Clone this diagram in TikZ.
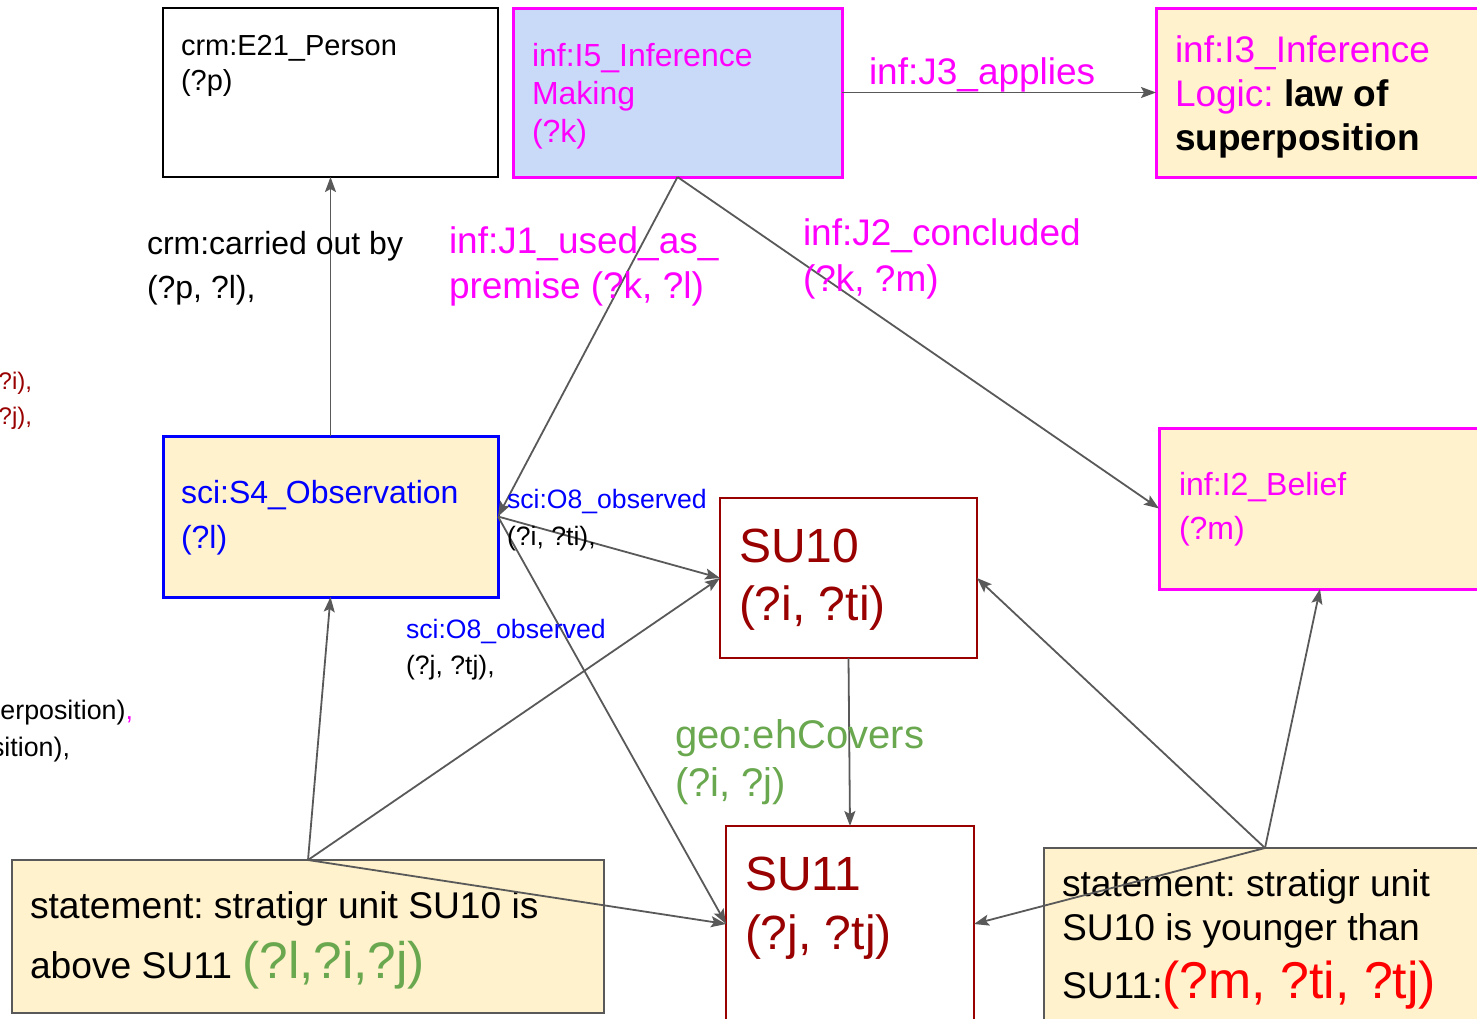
\documentclass[tikz,border=0pt]{standalone}
\usepackage{fontspec}
\setmainfont{Liberation Sans}
\usetikzlibrary{arrows.meta}
\frenchspacing

\definecolor{infmagenta}{HTML}{FF00FF}
\definecolor{sciblue}{HTML}{0000FF}
\definecolor{sudarkred}{HTML}{990000}
\definecolor{varred}{HTML}{FF0000}
\definecolor{geogreen}{HTML}{6AA84F}
\definecolor{boxyellow}{HTML}{FFF2CC}
\definecolor{boxblue}{HTML}{C9DAF8}
\definecolor{linkgray}{HTML}{595959}

\newcommand{\setfs}[2]{\fontsize{#1}{#2}\selectfont\lineskiplimit=-100pt\relax}

\tikzset{
  box/.style={draw, rectangle, inner sep=0pt, outer sep=0pt},
  txt/.style={anchor=base west, inner sep=0pt, outer sep=0pt, align=left},
  link/.style={draw=linkgray, line width=0.9pt, -{Stealth[length=7.5pt,width=5.5pt,inset=1.5pt]}},
}

\begin{document}
\begin{tikzpicture}[x=0.5pt,y=-0.5pt]
\useasboundingbox (0,0) rectangle (1477,1018);
\clip (0,0) rectangle (1477,1018);
% top row
\node[box,draw=black,line width=1pt,fill=white,minimum width=167.5pt,minimum height=84.5pt]
  (person) at (330.5,92.5) {};
\node[box,draw=infmagenta,line width=1.5pt,fill=boxblue,minimum width=164.5pt,minimum height=84.5pt]
  (infmk) at (677.5,92.5) {};
\node[box,draw=infmagenta,line width=1.5pt,fill=boxyellow,minimum width=167pt,minimum height=84.5pt]
  (logic) at (1323,92.5) {};
% middle row
\node[box,draw=sciblue,line width=1.5pt,fill=boxyellow,minimum width=167.5pt,minimum height=80.5pt]
  (obs) at (330.5,516.5) {};
\node[box,draw=infmagenta,line width=1.5pt,fill=boxyellow,minimum width=161pt,minimum height=80.5pt]
  (belief) at (1320,508.5) {};
\node[box,draw=sudarkred,line width=0.8pt,fill=white,minimum width=128.5pt,minimum height=80pt]
  (su10) at (848.5,578) {};
% bottom row
\node[box,draw=sudarkred,line width=0.8pt,fill=white,minimum width=124pt,minimum height=98pt]
  (su11) at (850,924) {};
\node[box,draw=linkgray,line width=0.8pt,fill=boxyellow,minimum width=296pt,minimum height=76.5pt]
  (stmtabove) at (308,936.5) {};
\node[box,draw=linkgray,line width=0.8pt,fill=boxyellow,minimum width=221pt,minimum height=91pt]
  (stmtyounger) at (1265,939) {};
% box texts (placed at the baseline of the last line)
\node[txt,font=\setfs{14.5}{17.5}] (persontxt) at (181,90) {crm:E21\_Person\\(?p)};
\node[txt,font=\setfs{16}{19},text=infmagenta] (infmktxt) at (532,142)
  {inf:I5\_Inference\\Making\\(?k)};
\node[txt,font=\setfs{18.5}{22}] (logictxt) at (1175,150)
  {\textcolor{infmagenta}{inf:I3\_Inference}\\\textcolor{infmagenta}{Logic:} \textbf{law of}\\\textbf{superposition}};
\node[txt,font=\setfs{16}{22.5},text=sciblue] (obstxt) at (181,548) {sci:S4\_Observation\\(?l)};
\node[txt,font=\setfs{16}{22},text=infmagenta] (belieftxt) at (1179,539) {inf:I2\_Belief\\(?m)};
\node[txt,font=\setfs{24}{29},text=sudarkred] (su10txt) at (739,620) {SU10\\(?i, ?ti)};
\node[txt,font=\setfs{24}{29.5},text=sudarkred] (su11txt) at (745,949) {SU11\\(?j, ?tj)};
\node[txt,font=\setfs{18.6}{30}] (stmtabovetxt) at (30,978)
  {statement: stratigr unit SU10 is\\above SU11 \textcolor{geogreen}{\fontsize{25.7}{30}\selectfont(?l,?i,?j)}};
\node[txt,font=\setfs{18.6}{22}] (stmtyoungertxt) at (1062,998)
  {statement: stratigr unit\\SU10 is younger than\\[7pt]SU11:\textcolor{varred}{\fontsize{25.9}{22}\selectfont(?m, ?ti, ?tj)}};
% cut-off texts at the left edge
\node[txt,anchor=base east,font=\setfs{12}{17.5},text=sudarkred] (cuti) at (32,389) {?i),};
\node[txt,anchor=base east,font=\setfs{12}{17.5},text=sudarkred] (cutj) at (32,424) {?j),};
\node[txt,anchor=base east,font=\setfs{13.4}{18.5}] (cutsup) at (133,719) {erposition)\textcolor{infmagenta}{,}};
\node[txt,anchor=base east,font=\setfs{13.4}{18.5}] (cutpos) at (70,756) {sition),};
% links
\draw[link] (obs.north) -- (person.south);
\draw[link] (infmk.south) -- (obs.east);
\draw[link] (infmk.south) -- (belief.west);
\draw[link] (infmk.east) -- (logic.west);
\draw[link] (obs.east) -- (su10.west);
\draw[link] (obs.east) -- (su11.west);
\draw[link] (stmtabove.north) -- (obs.south);
\draw[link] (stmtabove.north) -- (su10.west);
\draw[link] (stmtabove.north) -- (su11.west);
\draw[link] (su10.south) -- (su11.north);
\draw[link] (stmtyounger.north) -- (su10.east);
\draw[link] (stmtyounger.north) -- (belief.south);
\draw[link] (stmtyounger.north) -- (su11.east);
% link labels
\node[txt,font=\setfs{16}{22}] (carriedlbl) at (147,298) {crm:carried out by\\(?p, ?l),};
\node[txt,font=\setfs{18.5}{22.5},text=infmagenta] (usedlbl) at (449,298)
  {inf:J1\_used\_as\_\\premise (?k, ?l)};
\node[txt,font=\setfs{18.5}{23},text=infmagenta] (concludedlbl) at (803,291)
  {inf:J2\_concluded\\(?k, ?m)};
\node[txt,font=\setfs{18.5}{22},text=infmagenta] (applieslbl) at (869,84) {inf:J3\_applies};
\node[txt,font=\setfs{13.3}{18.5}] (observedilbl) at (507,545)
  {\textcolor{sciblue}{sci:O8\_observed}\\(?i, ?ti),};
\node[txt,font=\setfs{13.3}{18}] (observedjlbl) at (406,674)
  {\textcolor{sciblue}{sci:O8\_observed}\\(?j, ?tj),};
\node[txt,font=\setfs{20}{24},text=geogreen] (coverslbl) at (675,796) {geo:ehCovers\\(?i, ?j)};
\end{tikzpicture}
\end{document}
